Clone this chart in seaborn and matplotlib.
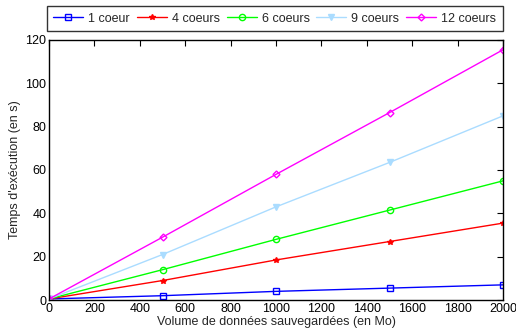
import numpy as np
import matplotlib
matplotlib.use('Agg')
import matplotlib.pyplot as plt
import seaborn as sns
import pandas as pd

# données
volumes = [0, 500, 1000, 1500, 2000]
t_1 = [0.5, 2.0, 4.0, 5.5, 7.0]
t_4 = [0.5, 9.0, 18.5, 27.0, 35.5]
t_6 = [0.5, 14.0, 28.0, 41.5, 55.0]
t_9 = [0.5, 21.0, 43.0, 63.5, 85.0]
t_12 = [0.5, 29.0, 58.0, 86.5, 115.5]
labels = ['1 coeur', '4 coeurs', '6 coeurs', '9 coeurs', '12 coeurs']

sns.set_style('white')
plt.rcParams['font.family'] = ['Liberation Sans', 'DejaVu Sans']

df = pd.DataFrame({'volume': volumes * 5,
                   'temps': t_1 + t_4 + t_6 + t_9 + t_12,
                   'serie': np.repeat(labels, len(volumes))})

colors = ['#0000ff', '#ff0000', '#00ff00', '#aadcff', '#ff00ff']
markers = ['s', '*', 'o', 'v', 'D']
msizes = [4.5, 4, 4.5, 4.5, 3.5]
mfc = ['none', '#ff0000', 'none', '#aadcff', 'none']

fig = plt.figure(figsize=(5.16, 3.33), dpi=100)
ax = fig.add_axes([0.095, 0.099, 0.88, 0.781])

for i, lab in enumerate(labels):
    sub = df[df['serie'] == lab]
    sns.lineplot(data=sub, x='volume', y='temps', ax=ax, color=colors[i],
                 marker=markers[i], markersize=msizes[i], markerfacecolor=mfc[i],
                 markeredgecolor=colors[i], markeredgewidth=1, linewidth=1,
                 label=lab)

ax.set_xlim(0, 2000)
ax.set_ylim(0, 120)
ax.set_xticks(np.arange(0, 2001, 200))
ax.set_yticks(np.arange(0, 121, 20))
ax.tick_params(direction='in', top=True, right=True, length=4, labelsize=9,
               pad=2, colors='black')
for s in ax.spines.values():
    s.set_linewidth(1)
    s.set_color('black')
ax.set_xlabel('Volume de données sauvegardées (en Mo)', fontsize=9, labelpad=1)
ax.set_ylabel("Temps d'exécution (en s)", fontsize=9, labelpad=3)

leg = ax.legend(loc='lower center', bbox_to_anchor=(0.497, 1.035), ncol=5,
                fontsize=9, frameon=True, fancybox=False, edgecolor='black',
                handlelength=2.4, columnspacing=0.55, handletextpad=0.4,
                borderpad=0.5, borderaxespad=0)
leg.get_frame().set_linewidth(1)

fig.savefig('out.png', dpi=100)
